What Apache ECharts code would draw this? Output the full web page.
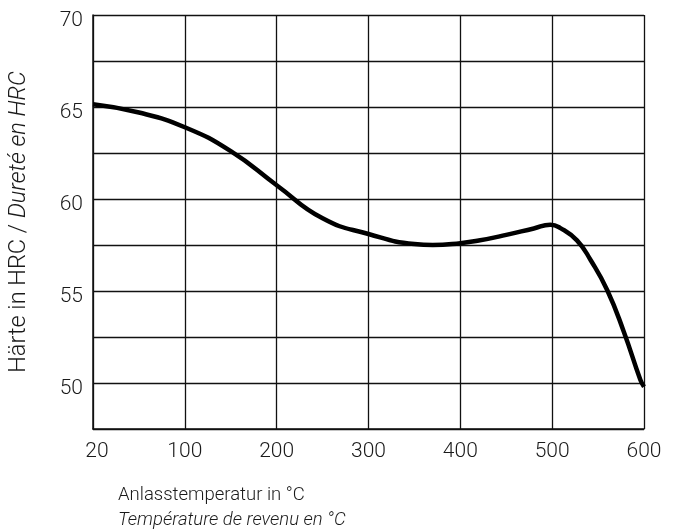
<!DOCTYPE html>
<html>
<head>
<meta charset="utf-8">
<script src="https://cdn.jsdelivr.net/npm/echarts@6/dist/echarts.min.js"></script>
<style>
html,body{margin:0;padding:0;background:#fff;}
#c{width:675px;height:531px;}
</style>
</head>
<body>
<div id="c"></div>
<script>
// x positions on the axis (0 position is labelled "20 °C")
const temps = [0, 50, 100, 150, 200, 250, 300, 350, 370, 400, 420, 450, 480, 498, 509, 527, 542, 560, 578, 596, 600];
const hardness = [65.15, 64.7, 63.9, 62.6, 60.75, 58.95, 58.1, 57.55, 57.5, 57.6, 57.74, 58.05, 58.4, 58.6, 58.42, 57.75, 56.67, 55.04, 52.79, 50.18, 49.8];
const xTicks = [0, 100, 200, 300, 400, 500, 600];
const xTickLabels = ['20', '100', '200', '300', '400', '500', '600'];
const yLabelled = [50, 55, 60, 65, 70];

const chart = echarts.init(document.getElementById('c'));
const font = 'Roboto';
chart.setOption({
  animation: false,
  grid: {left: 93, right: 31, top: 15, bottom: 102, containLabel: false, outerBoundsMode: 'none'},
  xAxis: {
    type: 'value', min: 0, max: 600, interval: 100,
    axisLine: {show: true, lineStyle: {color: '#111', width: 1.5}},
    axisTick: {show: false},
    splitLine: {show: true, lineStyle: {color: '#111', width: 1.3}},
    axisLabel: {
      fontFamily: font, fontWeight: 300, fontSize: 21, color: '#1a1a1a', margin: 12,
      formatter: v => { const i = xTicks.indexOf(v); if (i < 0) return ''; return i === 0 ? '{f|' + xTickLabels[i] + '}' : xTickLabels[i]; },
      rich: {f: {fontFamily: font, fontWeight: 300, fontSize: 21, color: '#1a1a1a', padding: [0, 0, 0, 8]}}
    }
  },
  yAxis: {
    type: 'value', min: 47.5, max: 70, interval: 2.5,
    name: '{a|Härte in HRC / }{b|Dureté en HRC}',
    nameLocation: 'middle', nameGap: 62, nameRotate: 90,
    nameTextStyle: {rich: {
      a: {fontFamily: font, fontWeight: 300, fontSize: 23.5, color: '#1a1a1a'},
      b: {fontFamily: font, fontWeight: 300, fontSize: 23.5, color: '#1a1a1a', fontStyle: 'italic'}
    }},
    axisLine: {show: true, lineStyle: {color: '#111', width: 1.5}},
    axisTick: {show: false},
    splitLine: {show: true, lineStyle: {color: '#111', width: 1.3}},
    axisLabel: {
      fontFamily: font, fontWeight: 300, fontSize: 21, color: '#1a1a1a', margin: 10,
      verticalAlign: 'top', lineHeight: 12,
      formatter: v => yLabelled.indexOf(v) >= 0 ? String(v) : ''
    }
  },
  graphic: [
    {type: 'text', left: 118, top: 486, style: {text: 'Anlasstemperatur in °C', font: '300 18.5px Roboto', fill: '#1a1a1a'}},
    {type: 'text', left: 118, top: 511, style: {text: 'Température de revenu en °C', font: 'italic 300 18.5px Roboto', fill: '#1a1a1a'}}
  ],
  series: [{
    type: 'line', smooth: 0.5, symbol: 'none',
    lineStyle: {color: '#000', width: 4.5},
    data: temps.map((t, i) => [t, hardness[i]])
  }]
});
</script>
</body>
</html>
